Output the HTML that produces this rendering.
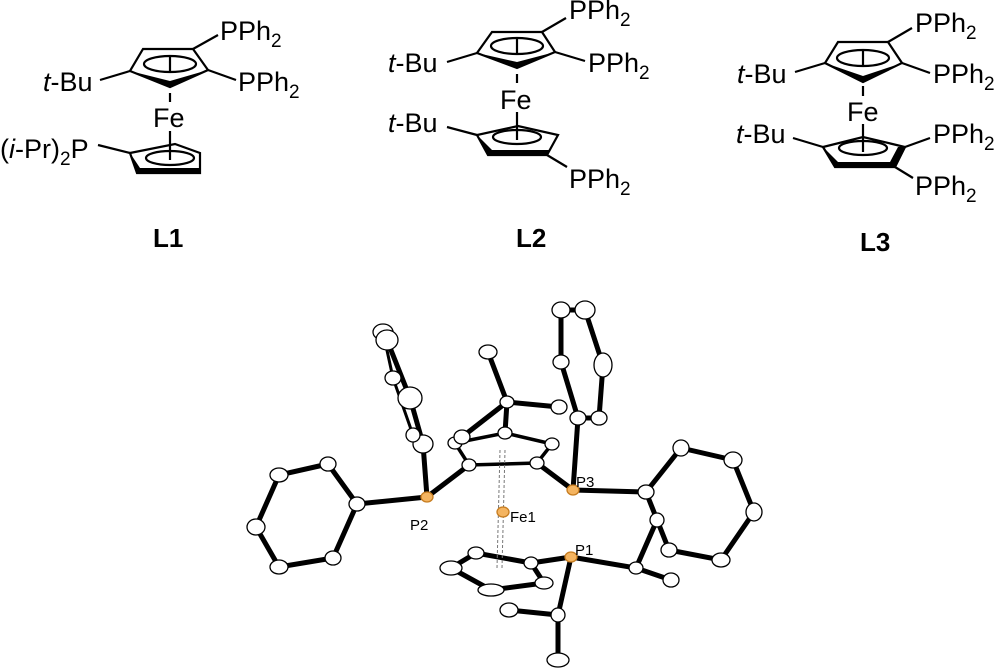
<!DOCTYPE html>
<html><head><meta charset="utf-8"><style>
html,body{margin:0;padding:0;background:#fff}
svg{display:block}
text{font-family:"Liberation Sans",sans-serif;fill:#000}
.t{font-size:27px}
.s{font-size:19px}
.lab{font-size:26px;font-weight:bold}
.ol{font-size:15px}
.b{stroke:#000;stroke-width:5;stroke-linecap:round;fill:none}
.r{stroke:#000;stroke-width:2.2;fill:none}
.a{fill:#fff;stroke:#000;stroke-width:1.3}
.p{fill:#f4b460;stroke:#c77d20;stroke-width:1.3}
</style></head><body>
<svg width="1000" height="672" viewBox="0 0 1000 672" xmlns="http://www.w3.org/2000/svg">
<!-- L1 -->
<g>
<polygon class="r" points="143,49 193,49 208,70 170,87 130,71"/>
<polygon points="130,71 170,87 208,70 170,81" fill="#000"/>
<ellipse class="r" cx="170" cy="64" rx="26" ry="8"/>
<line class="r" x1="170" y1="56" x2="170" y2="72"/>
<line class="r" x1="170" y1="93" x2="170" y2="102"/>
<line class="r" x1="193" y1="49" x2="218" y2="35"/>
<line class="r" x1="208" y1="70" x2="236" y2="80"/>
<line class="r" x1="130" y1="71" x2="100" y2="80"/>
<text class="t" x="220" y="40">PPh<tspan class="s" dy="7">2</tspan></text>
<text class="t" x="238" y="91">PPh<tspan class="s" dy="7">2</tspan></text>
<text class="t" x="43" y="91"><tspan font-style="italic">t</tspan>-Bu</text>
<text class="t" x="153" y="127">Fe</text>
<line class="r" x1="170" y1="131" x2="170" y2="160"/>
<polygon class="r" points="130,153 137,173 200,173 200,153 175,144"/>
<polygon points="130,153 137,173 200,173 200,168 140,168" fill="#000"/>
<ellipse class="r" cx="170" cy="158" rx="24" ry="7"/>
<line class="r" x1="130" y1="153" x2="98" y2="145"/>
<text class="t" x="0" y="158">(<tspan font-style="italic">i</tspan>-Pr)<tspan class="s" dy="7">2</tspan><tspan dy="-7">P</tspan></text>
<text class="lab" x="153" y="247">L1</text>
</g>
<!-- L2 -->
<g>
<polygon class="r" points="492,32 542,32 555,52 517,68 477,53"/>
<polygon points="477,53 517,68 555,52 517,62" fill="#000"/>
<ellipse class="r" cx="517" cy="46" rx="26" ry="8"/>
<line class="r" x1="517" y1="38" x2="517" y2="54"/>
<line class="r" x1="517" y1="74" x2="517" y2="83"/>
<line class="r" x1="542" y1="32" x2="566" y2="18"/>
<line class="r" x1="555" y1="52" x2="585" y2="61"/>
<line class="r" x1="477" y1="53" x2="447" y2="62"/>
<text class="t" x="569" y="19">PPh<tspan class="s" dy="7">2</tspan></text>
<text class="t" x="588" y="72">PPh<tspan class="s" dy="7">2</tspan></text>
<text class="t" x="388" y="72"><tspan font-style="italic">t</tspan>-Bu</text>
<text class="t" x="500" y="109">Fe</text>
<line class="r" x1="517" y1="112" x2="517" y2="140"/>
<polygon class="r" points="477,135 488,155 547,155 558,135 518,126"/>
<polygon points="477,135 488,155 547,155 550,150 492,150" fill="#000"/>
<ellipse class="r" cx="517" cy="137" rx="24" ry="7"/>
<line class="r" x1="477" y1="135" x2="447" y2="127"/>
<line class="r" x1="547" y1="155" x2="567" y2="167"/>
<text class="t" x="388" y="132"><tspan font-style="italic">t</tspan>-Bu</text>
<text class="t" x="569" y="188">PPh<tspan class="s" dy="7">2</tspan></text>
<text class="lab" x="516" y="247">L2</text>
</g>
<!-- L3 -->
<g>
<polygon class="r" points="838,42 888,42 902,63 863,82 825,63"/>
<polygon points="825,63 863,82 902,63 863,76" fill="#000"/>
<ellipse class="r" cx="863" cy="58" rx="26" ry="8"/>
<line class="r" x1="863" y1="50" x2="863" y2="66"/>
<line class="r" x1="863" y1="86" x2="863" y2="96"/>
<line class="r" x1="888" y1="42" x2="912" y2="28"/>
<line class="r" x1="902" y1="63" x2="930" y2="73"/>
<line class="r" x1="825" y1="63" x2="795" y2="72"/>
<text class="t" x="915" y="32">PPh<tspan class="s" dy="7">2</tspan></text>
<text class="t" x="933" y="83">PPh<tspan class="s" dy="7">2</tspan></text>
<text class="t" x="737" y="83"><tspan font-style="italic">t</tspan>-Bu</text>
<text class="t" x="847" y="121">Fe</text>
<line class="r" x1="863" y1="124" x2="863" y2="152"/>
<polygon class="r" points="823,147 835,167 895,167 905,147 863,137"/>
<polygon points="823,147 835,167 895,167 905,147 898,147 890,162 838,162" fill="#000"/>
<ellipse class="r" cx="863" cy="148" rx="24" ry="7"/>
<line class="r" x1="823" y1="147" x2="793" y2="138"/>
<line class="r" x1="905" y1="147" x2="930" y2="138"/>
<line class="r" x1="895" y1="167" x2="913" y2="178"/>
<text class="t" x="736" y="143"><tspan font-style="italic">t</tspan>-Bu</text>
<text class="t" x="933" y="143">PPh<tspan class="s" dy="7">2</tspan></text>
<text class="t" x="915" y="195">PPh<tspan class="s" dy="7">2</tspan></text>
<text class="lab" x="860" y="251">L3</text>
</g>
<!-- ORTEP -->
<g class="b">
<polyline points="328,464 279,475 256,527 279,567 333,558 357,504 328,464"/>
<line x1="357" y1="504" x2="427" y2="497"/>
<polyline points="427,497 423,444 410,398 387,340"/>
<polyline points="413,435 393,378 383,332" stroke-width="3"/>
<line x1="427" y1="497" x2="469" y2="465"/>
<polyline points="455,443 469,465 537,463 552,444 505,433 455,443" stroke-width="3.5"/>
<line x1="507" y1="402" x2="488" y2="352"/>
<line x1="507" y1="402" x2="559" y2="407"/>
<line x1="507" y1="402" x2="462" y2="437"/>
<line x1="507" y1="402" x2="505" y2="433"/>
<line x1="537" y1="463" x2="573" y2="490"/>
<polyline points="573,490 578,418 561,362 561,310"/>
<polyline points="578,418 599,418 603,365 585,310 561,310"/>
<line x1="573" y1="490" x2="646" y2="492"/>
<polyline points="646,492 681,448 733,460 754,512 721,560 669,550 646,492"/>
<line x1="571" y1="557" x2="531" y2="563"/>
<polyline points="531,563 476,553 451,568 491,590 544,583 531,563"/>
<line x1="571" y1="557" x2="636" y2="568"/>
<line x1="636" y1="568" x2="657" y2="520"/>
<line x1="636" y1="568" x2="671" y2="580"/>
<polyline points="571,557 558,615 509,610"/>
<line x1="558" y1="615" x2="558" y2="660"/>
</g>
<g stroke="#777" stroke-width="1" stroke-dasharray="3,2">
<line x1="500" y1="450" x2="497" y2="568"/>
<line x1="505" y1="450" x2="502" y2="568"/>
</g>
<g>
<g class="a">
<ellipse cx="328" cy="464" rx="8" ry="7"/><ellipse cx="279" cy="475" rx="9" ry="7"/>
<ellipse cx="256" cy="527" rx="9" ry="8"/><ellipse cx="279" cy="567" rx="9" ry="7"/>
<ellipse cx="333" cy="558" rx="8" ry="7"/><ellipse cx="357" cy="504" rx="8" ry="7"/>
<ellipse cx="423" cy="444" rx="10" ry="9"/><ellipse cx="413" cy="435" rx="7" ry="7"/>
<ellipse cx="410" cy="398" rx="12" ry="11"/><ellipse cx="393" cy="378" rx="8" ry="7"/>
<ellipse cx="383" cy="332" rx="10" ry="8"/><ellipse cx="387" cy="340" rx="11" ry="10"/>
<ellipse cx="455" cy="443" rx="7" ry="6"/><ellipse cx="469" cy="465" rx="7" ry="6"/>
<ellipse cx="537" cy="463" rx="7" ry="6"/><ellipse cx="552" cy="444" rx="7" ry="6"/>
<ellipse cx="505" cy="433" rx="7" ry="6"/><ellipse cx="507" cy="402" rx="7" ry="6"/>
<ellipse cx="488" cy="352" rx="9" ry="7"/><ellipse cx="559" cy="407" rx="8" ry="7"/>
<ellipse cx="462" cy="437" rx="8" ry="7"/>
<ellipse cx="578" cy="418" rx="8" ry="7"/><ellipse cx="599" cy="418" rx="8" ry="7"/>
<ellipse cx="561" cy="362" rx="8" ry="7"/><ellipse cx="603" cy="365" rx="9" ry="12"/>
<ellipse cx="561" cy="310" rx="9" ry="8"/><ellipse cx="585" cy="310" rx="10" ry="9"/>
<ellipse cx="646" cy="492" rx="8" ry="7"/><ellipse cx="681" cy="448" rx="8" ry="8"/>
<ellipse cx="733" cy="460" rx="9" ry="8"/><ellipse cx="754" cy="512" rx="8" ry="9"/>
<ellipse cx="721" cy="560" rx="9" ry="7"/><ellipse cx="669" cy="550" rx="8" ry="7"/>
<ellipse cx="657" cy="520" rx="7" ry="7"/>
<ellipse cx="531" cy="563" rx="7" ry="6"/><ellipse cx="476" cy="553" rx="8" ry="6"/>
<ellipse cx="451" cy="568" rx="11" ry="7"/><ellipse cx="491" cy="590" rx="13" ry="6"/>
<ellipse cx="544" cy="583" rx="9" ry="6"/>
<ellipse cx="636" cy="568" rx="7" ry="6"/><ellipse cx="671" cy="580" rx="8" ry="7"/>
<ellipse cx="558" cy="615" rx="7" ry="7"/><ellipse cx="509" cy="610" rx="9" ry="7"/>
<ellipse cx="558" cy="660" rx="11" ry="7"/>
</g>
<g class="p">
<ellipse cx="427" cy="497" rx="6" ry="5"/><ellipse cx="573" cy="490" rx="6" ry="5"/>
<ellipse cx="571" cy="557" rx="6" ry="5"/><ellipse cx="503" cy="512" rx="6" ry="5"/>
</g>
<text class="ol" x="410" y="530">P2</text>
<text class="ol" x="576" y="487">P3</text>
<text class="ol" x="510" y="522">Fe1</text>
<text class="ol" x="575" y="555">P1</text>
</g>
</svg>
</body></html>
